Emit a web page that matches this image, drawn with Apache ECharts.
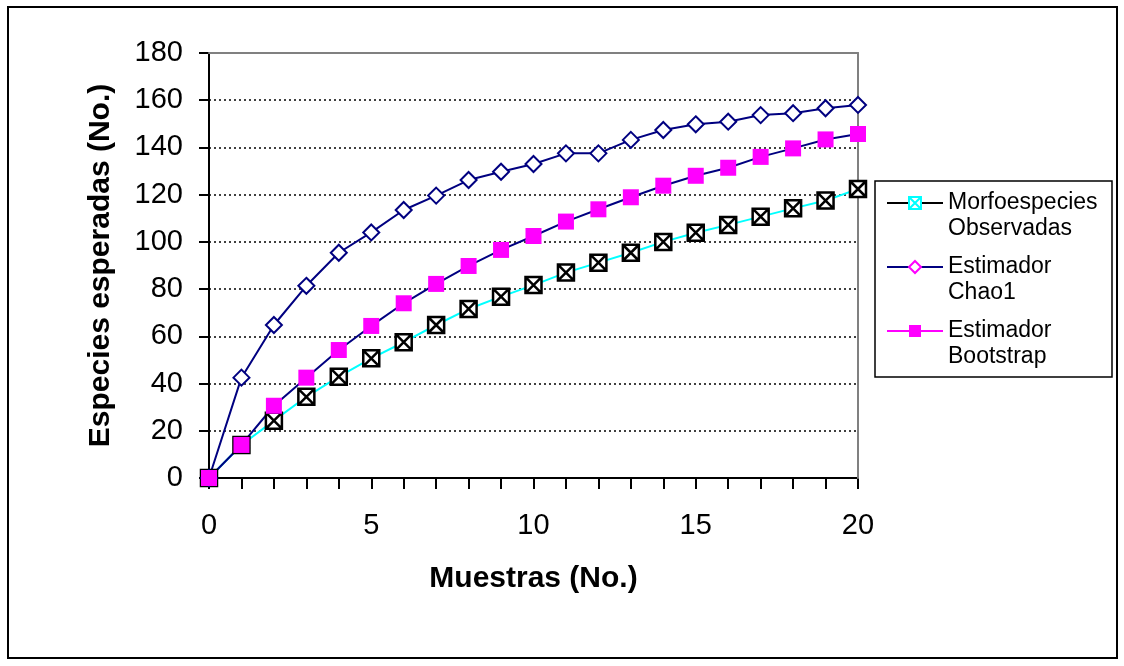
<!DOCTYPE html>
<html lang="es">
<head>
    <meta charset="UTF-8">
    <title>Curvas de acumulación</title>
    <script type="text/javascript" src="https://cdn.jsdelivr.net/npm/echarts@6/dist/echarts.min.js"></script>
    <style>
        html, body { margin: 0; padding: 0; background: #fff; }
    </style>
</head>
<body>
<div id="main" style="width:1124px;height:666px;"></div>
</body>

<script>
    // valores
    let muestras = [0, 1, 2, 3, 4, 5, 6, 7, 8, 9, 10, 11, 12, 13, 14, 15, 16, 17, 18, 19, 20];
    let observadas = [0, 14, 24.3, 34.4, 42.9, 50.7, 57.5, 64.8, 71.6, 76.8, 81.7, 87, 91.2, 95.4, 100, 103.9, 107.2, 110.7, 114.2, 117.5, 122.4];
    let chao1 = [0, 42.5, 64.8, 81.4, 95.4, 104, 113.5, 119.6, 126.2, 129.7, 133, 137.5, 137.5, 143.2, 147.4, 149.8, 150.9, 153.7, 154.5, 156.6, 158];
    let bootstrap = [0, 14, 30.6, 42.5, 54.2, 64.4, 74, 82.2, 89.8, 96.6, 102.5, 108.6, 113.8, 118.9, 123.8, 128, 131.4, 136, 139.6, 143.4, 145.7];
    let nombres = ['Morfoespecies\nObservadas', 'Estimador\nChao1', 'Estimador\nBootstrap'];

    const font = 'Liberation Sans, Arial, sans-serif';
    const crossBox = 'path://M0,0 L10,0 L10,10 L0,10 Z M0,0 L10,10 M10,0 L0,10';

    function pares(vals) {
        return muestras.map((m, i) => [m, vals[i]]);
    }

    // una leyenda por serie; la línea vacía de arriba deja el icono a la altura de la primera línea
    function leyenda(top, item) {
        return {
            orient: 'vertical',
            left: 886, top: top,
            padding: 0,
            itemWidth: 56,
            itemHeight: 15,
            selectedMode: false,
            formatter: name => '\n' + name,
            textStyle: { fontSize: 23, color: '#000', fontFamily: font, lineHeight: 26 },
            data: [item]
        };
    }

    let myChart = echarts.init(document.getElementById('main'));

    let option = {
        animation: false,
        backgroundColor: '#fff',
        textStyle: { fontFamily: font },
        graphic: [
            {
                type: 'rect',
                shape: { x: 8, y: 7, width: 1109, height: 651 },
                style: { fill: 'none', stroke: '#000', lineWidth: 2 },
                silent: true
            },
            {
                type: 'rect',
                shape: { x: 875, y: 181, width: 237, height: 196 },
                style: { fill: 'none', stroke: '#000', lineWidth: 1.5 },
                silent: true
            }
        ],
        grid: { left: 209, top: 53, right: 266, bottom: 188 },
        legend: [
            leyenda(164, { name: nombres[0], itemStyle: { color: '#fff', borderColor: '#00ffff', borderWidth: 2 }, lineStyle: { color: '#000' } }),
            leyenda(228, { name: nombres[1], itemStyle: { color: '#fff', borderColor: '#ff00ff', borderWidth: 2 }, lineStyle: { color: '#000080' } }),
            leyenda(292, { name: nombres[2], itemStyle: { color: '#ff00ff', borderColor: '#ff00ff' }, lineStyle: { color: '#ff00ff' } })
        ],
        xAxis: [
            {
                type: 'value',
                min: 0, max: 20, interval: 1,
                name: 'Muestras (No.)',
                nameLocation: 'middle',
                nameGap: 86,
                nameTextStyle: { fontSize: 30, fontWeight: 'bold', color: '#000', fontFamily: font },
                axisLine: { onZero: false, lineStyle: { color: '#000', width: 2 } },
                axisTick: { show: true, length: 11, lineStyle: { color: '#000', width: 2 } },
                axisLabel: {
                    fontSize: 29, color: '#000', margin: 33, fontFamily: font,
                    formatter: v => (v % 5 === 0 ? String(v) : '')
                },
                splitLine: { show: false },
                z: 3
            },
            {
                // borde superior gris del área de trazado
                type: 'value',
                position: 'top',
                min: 0, max: 20,
                axisLine: { show: true, onZero: false, lineStyle: { color: '#808080', width: 2 } },
                axisTick: { show: false },
                axisLabel: { show: false },
                splitLine: { show: false },
                z: 4
            }
        ],
        yAxis: [
            {
                type: 'value',
                min: 0, max: 180, interval: 20,
                name: 'Especies esperadas (No.)',
                nameLocation: 'middle',
                nameGap: 93,
                nameRotate: 90,
                nameTextStyle: { fontSize: 30, fontWeight: 'bold', color: '#000', fontFamily: font },
                axisLine: { show: true, onZero: false, lineStyle: { color: '#000', width: 2 } },
                axisTick: { show: true, length: 10, lineStyle: { color: '#000', width: 2 } },
                axisLabel: { fontSize: 29, color: '#000', margin: 26, fontFamily: font },
                splitLine: { show: true, lineStyle: { color: '#000', type: [2, 3], width: 1.5 } },
                z: 2
            },
            {
                // borde derecho gris
                type: 'value',
                position: 'right',
                min: 0, max: 180,
                axisLine: { show: true, onZero: false, lineStyle: { color: '#808080', width: 2 } },
                axisTick: { show: false },
                axisLabel: { show: false },
                splitLine: { show: false },
                z: 4
            }
        ],
        series: [
            {
                name: nombres[0],
                type: 'line',
                data: pares(observadas),
                symbol: crossBox,
                symbolSize: 16,
                showAllSymbol: true,
                z: 5,
                lineStyle: { color: '#00ffff', width: 2 },
                itemStyle: { color: '#fff', borderColor: '#000', borderWidth: 2.5 }
            },
            {
                name: nombres[1],
                type: 'line',
                data: pares(chao1),
                symbol: 'diamond',
                symbolSize: 16,
                showAllSymbol: true,
                z: 5,
                lineStyle: { color: '#000080', width: 2 },
                itemStyle: { color: '#fff', borderColor: '#000080', borderWidth: 2 }
            },
            {
                name: nombres[2],
                type: 'line',
                data: pares(bootstrap),
                symbol: 'rect',
                symbolSize: 16,
                showAllSymbol: true,
                z: 5,
                lineStyle: { color: '#000080', width: 2 },
                itemStyle: { color: '#ff00ff', borderColor: '#ff00ff', borderWidth: 0 }
            }
        ]
    };

    myChart.setOption(option);
</script>
</html>
